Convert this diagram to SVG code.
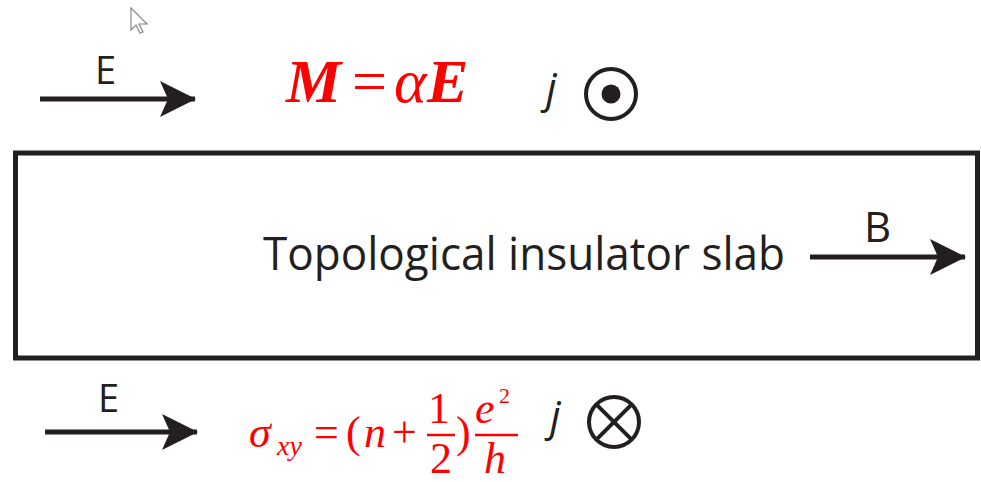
<svg xmlns="http://www.w3.org/2000/svg" width="981" height="482" viewBox="0 0 981 482">
<style>
.lbl{font-family:"Open Sans","Liberation Sans",sans-serif;fill:#231f20}
.jj{font-family:"Open Sans","Liberation Sans",sans-serif;font-style:italic;fill:#231f20;font-size:42px}
.math{font-family:"Liberation Serif","Times New Roman",serif;fill:#ff0000}
.it{font-style:italic}
.conn line{stroke:#231f20;stroke-width:5}
.sym{fill:none;stroke:#231f20;stroke-width:4}
.bar{stroke:#ff0000;stroke-width:2.5}
</style>
<defs>
<marker id="ah" viewBox="0 0 36 36" refX="35" refY="18" markerWidth="36" markerHeight="36" markerUnits="userSpaceOnUse" orient="auto">
<path d="M0,0 L36,18 L0,36 L8,18 Z" fill="#231f20"/>
</marker>
</defs>
<rect width="981" height="482" fill="#ffffff"/>
<path d="M131,8 L131,30 L136,25 L140,33 L143,32 L139,24 L147,24 Z" fill="#ffffff" stroke="#8a8a8a" stroke-width="1.2"/>
<g id="slab">
<rect x="15.5" y="153" width="962" height="205" fill="none" stroke="#231f20" stroke-width="5"/>
<text class="lbl" x="263" y="270" font-size="46" textLength="522" lengthAdjust="spacingAndGlyphs">Topological insulator slab</text>
</g>
<g id="connectors" class="conn">
<line x1="40" y1="99" x2="195" y2="99" marker-end="url(#ah)"/>
<line x1="45" y1="432" x2="197" y2="432" marker-end="url(#ah)"/>
<line x1="810" y1="257" x2="965" y2="257" marker-end="url(#ah)"/>
</g>
<g id="label-E-top"><text class="lbl" x="95" y="84" font-size="38">E</text></g>
<g id="label-E-bottom"><text class="lbl" x="98" y="412" font-size="38">E</text></g>
<g id="label-B"><text class="lbl" x="864" y="242" font-size="42">B</text></g>
<g id="eq-M">
<text class="math" y="102" font-size="62"><tspan x="286" font-weight="bold" font-style="italic">M</tspan><tspan x="352">=</tspan><tspan x="394" font-style="italic">α</tspan><tspan x="427" font-weight="bold" font-style="italic">E</tspan></text>
</g>
<g id="j-out">
<text class="jj" x="546" y="103">j</text>
<circle class="sym" cx="611" cy="94" r="25"/>
<circle cx="611" cy="94" r="9.5" fill="#231f20"/>
</g>
<g id="eq-sigma">
<text class="math it" x="249" y="447" font-size="44">σ</text>
<text class="math it" x="277" y="455" font-size="28">xy</text>
<text class="math" x="314" y="447" font-size="44">=</text>
<text class="math" x="346" y="447" font-size="44">(</text>
<text class="math it" x="364" y="447" font-size="44">n</text>
<text class="math" x="392" y="447" font-size="44">+</text>
<text class="math" x="428" y="423" font-size="44">1</text>
<line class="bar" x1="427" y1="435" x2="455" y2="435"/>
<text class="math" x="430" y="473" font-size="44">2</text>
<text class="math" x="456" y="447" font-size="44">)</text>
<text class="math it" x="475" y="423" font-size="44">e</text>
<text class="math" x="499" y="403" font-size="22">2</text>
<line class="bar" x1="475" y1="435" x2="518" y2="435"/>
<text class="math it" x="484" y="473" font-size="44">h</text>
</g>
<g id="j-in">
<text class="jj" x="550" y="431">j</text>
<circle class="sym" cx="614" cy="422" r="25"/>
<line class="sym" x1="596.3" y1="404.3" x2="631.7" y2="439.7"/>
<line class="sym" x1="631.7" y1="404.3" x2="596.3" y2="439.7"/>
</g>
</svg>
